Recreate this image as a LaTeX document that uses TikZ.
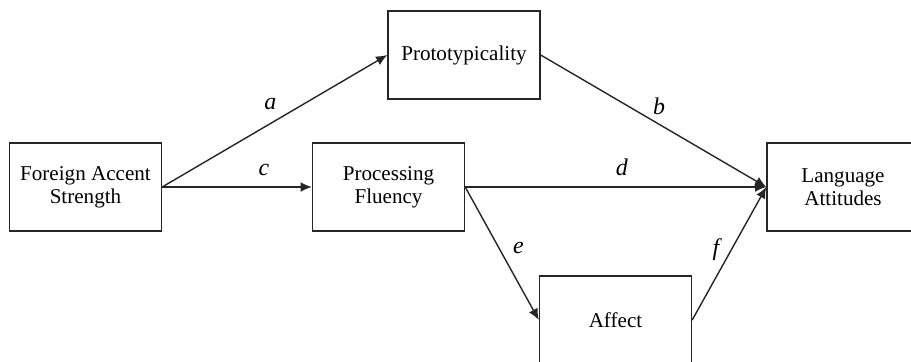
\documentclass[tikz,border=0pt]{standalone}
\usepackage{fontspec}
\setmainfont{Liberation Serif}
\usetikzlibrary{arrows.meta}
\begin{document}
\begin{tikzpicture}[-{Latex[length=8pt,width=7pt]},draw=black!85,line width=1pt]
    \tikzstyle{var}=[rectangle,draw,line width=1pt,minimum width=3.8cm,minimum height=2.2cm,
      align=center,font=\fontsize{15}{16.5}\selectfont]
    \tikzstyle{coef}=[font=\fontsize{17}{18}\selectfont\itshape,inner sep=1pt]

    \useasboundingbox (0,0) rectangle (22.775,9.025);
    \clip (0,0) rectangle (22.775,9.025);

    \node[var] (accent) at (2.1375,4.35) {Foreign Accent\\Strength};
    \node[var] (proto) at (11.6,7.65) {Prototypicality};
    \node[var] (fluency) at (9.7125,4.35) {Processing\\Fluency};
    \node[var] (attitudes) at (21.075,4.35) {Language\\Attitudes};
    \node[var] (affect) at (15.3875,1.025) {Affect};

    \path (accent.east) edge node[coef,pos=0.48,above=0.3cm] {a} (proto.west);
    \path (proto.east) edge node[coef,pos=0.48,above right=0.05cm] {b} (attitudes.west);
    \path (accent.east) edge node[coef,pos=0.68,above=0.22cm] {c} (fluency.west);
    \path (fluency.east) edge node[coef,pos=0.52,above=0.22cm] {d} (attitudes.west);
    \path (fluency.east) edge node[coef,pos=0.46,right=0.3cm] {e} (affect.west);
    \path (affect.east) edge node[coef,pos=0.53,left=0.25cm] {f} (attitudes.west);
  \end{tikzpicture}
\end{document}
